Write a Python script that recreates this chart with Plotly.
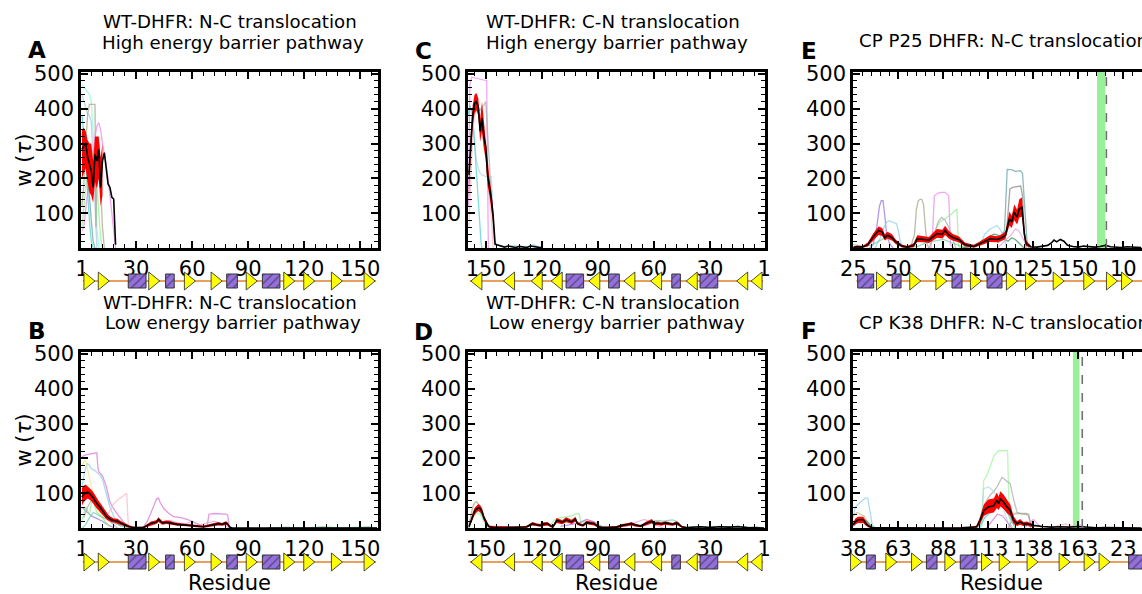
import plotly.graph_objects as go

W, H = 1142, 594
FONT = "DejaVu Sans"

# ---------------- secondary structure (axis units) ----------------
WT_strands = [5, 12.7, 39.7, 58.8, 73.1, 91.9, 112, 122.7, 137.5, 155]
WT_helix_start = [25.8, 45.8, 78.5, 97.6]
WT_helix_end = [35.3, 50.4, 84.2, 107]
WT_backbone = [1.5, 158.5]

P25_strands = [15.9, 34.4, 48.9, 68.1, 88.1, 98.7, 114.1, 131.1, 143.7, 152.1]
P25_helix_start = [2.4, 21.5, 54.8, 74.3]
P25_helix_end = [11.3, 26.5, 60.4, 82.6]
P25_backbone = [1.7, 175]

K38_strands = [1.5, 21.1, 35.4, 53.9, 74.3, 84.1, 99.6, 117.4, 131.3, 139.6]
K38_helix_start = [7.2, 40.6, 59.4, 153]
K38_helix_end = [12.2, 46.5, 68.7, 163]
K38_backbone = [-1.3, 175]

# ---------------- tick labels ----------------
WT_tickvals = [1, 30, 60, 90, 120, 150]
WT_ticktext = ["1", "30", "60", "90", "120", "150"]
CP_tickvals = [0, 25, 50, 75, 100, 125, 150]
P25_ticktext = ["25", "50", "75", "100", "125", "150", "10"]
K38_ticktext = ["38", "63", "88", "113", "138", "163", "23"]
Y_tickvals = [100, 200, 300, 400, 500]

# linker markers in the circular permutants
P25_linker = [135.4, 140.0]
P25_dash = 140.6
K38_linker = [122.0, 125.7]
K38_dash = 127.2

# ---------------- Panel A: WT N-C, high barrier ----------------
A_res = [1, 2, 3, 4, 5, 6, 7, 8, 9, 10, 11, 12, 13, 14, 15, 16, 17, 18, 19]
A_mean = [283, 295, 302, 262, 240, 222, 174, 269, 250, 283, 174, 250, 274, 222, 184, 174, 146, 141, 10]
A_band_res = [1, 2, 3, 4, 5, 6, 7, 8, 9, 10, 11, 12]
A_lo = [200, 215, 230, 190, 160, 150, 130, 190, 170, 200, 120, 150]
A_hi = [340, 345, 335, 310, 300, 300, 250, 320, 320, 320, 260, 300]
A_traj_x = [
    [1, 2, 3, 4, 5, 6, 7, 8, 9, 10],
    [1, 2, 3, 4, 5, 6, 7, 8, 9],
    [1, 2, 3, 4, 5, 6, 7, 8, 8.5, 9, 10, 11, 12, 13],
    [1, 2, 3, 4, 5, 6, 7, 8, 9, 10, 11, 12, 13, 14, 15, 16, 17, 18, 19],
    [1, 2, 3, 4, 5, 6, 7],
    [1, 2, 3, 4, 5, 6, 7, 8, 9, 10, 11, 12],
    [1, 2, 3, 4, 5, 6, 7, 8],
]
A_traj_y = [
    [470, 462, 455, 445, 440, 420, 330, 200, 60, 0],
    [440, 420, 400, 385, 380, 360, 250, 100, 0],
    [120, 180, 300, 380, 412, 412, 412, 412, 60, 220, 300, 200, 60, 0],
    [50, 60, 110, 170, 210, 240, 270, 320, 350, 360, 340, 300, 275, 240, 200, 150, 100, 40, 0],
    [380, 330, 250, 160, 80, 20, 0],
    [60, 120, 180, 230, 260, 280, 260, 240, 180, 100, 30, 0],
    [330, 300, 250, 200, 150, 80, 20, 0],
]
A_colors = ["aquamarine", "lightsteelblue", "#a0a080", "violet", "mediumturquoise", "lightgreen", "cadetblue"]

# ---------------- Panel B: WT N-C, low barrier ----------------
B_res = [1, 2, 3, 4, 5, 6, 7, 8, 9, 10, 11, 12, 13, 14, 15, 16, 17, 18, 19, 20,
         22, 24, 26, 28, 30, 32, 34, 36, 38, 40, 41, 42, 43, 44,
         46, 48, 50, 52, 54, 56, 58, 60, 62, 64, 66, 68, 70, 72, 74, 76, 78,
         79, 80, 81, 82, 100, 130, 159]
B_mean = [89, 97, 101, 103, 100, 94, 88, 78, 70, 64, 58, 50, 43, 35, 30, 26, 23, 22, 21, 20,
          14, 9, 5, 2, 2, 1, 2, 8, 14, 16, 18, 25, 20, 15,
          17, 16, 13, 11, 10, 9, 8, 8, 6, 4, 4, 6, 8, 12, 13, 11, 15,
          12, 4, 1, 0, 0, 0, 0]
B_band_res = B_res[:55]
B_lo = [65, 75, 80, 85, 82, 78, 72, 63, 56, 51, 46, 39, 33, 26, 22, 19, 17, 16, 15, 14,
        9, 5, 2, 0, 0, 0, 0, 4, 9, 11, 13, 18, 14, 10,
        12, 11, 9, 7, 6, 5, 5, 5, 3, 1, 1, 3, 4, 7, 8, 7, 10,
        8, 1, 0, 0]
B_hi = [115, 122, 125, 120, 117, 110, 104, 94, 85, 78, 71, 62, 54, 45, 39, 34, 30, 28, 28, 27,
        20, 14, 9, 5, 4, 3, 5, 12, 19, 21, 24, 31, 26, 20,
        22, 21, 17, 15, 14, 13, 12, 11, 9, 7, 7, 10, 13, 17, 18, 15, 20,
        17, 7, 2, 0]
B_traj_x = [
    [1, 2, 3, 5, 7, 9, 9.5, 10, 12, 14, 16, 18, 20, 22, 24, 26, 30, 34, 36, 38, 40, 41, 42, 43, 45, 47, 50,
     54, 58, 62, 66, 68, 69, 72, 75, 78, 79, 80],
    [1, 2, 3, 4, 5, 6, 7, 8, 9, 10, 11, 12, 13, 14, 15, 16, 18, 20, 22],
    [1, 2, 3, 4, 5, 6, 7, 8, 10, 12, 14, 16],
    [14, 16, 18, 20, 22, 23, 24, 25, 25.5, 26],
    [1, 2, 3, 4, 5, 6, 8, 10, 12, 14, 16, 18],
    [1, 2, 3, 4, 5, 6, 7, 8, 9, 10, 12, 14, 16],
    [1, 3, 5, 7, 9, 11, 13, 15, 17, 20, 24, 28],
    [2, 4, 6, 8, 10, 12, 14, 16, 18, 20],
    [36, 40, 44, 48, 52, 56, 60, 64, 68, 72, 76, 80],
    [100, 110, 120, 130, 140, 150, 155, 159],
]
B_traj_y = [
    [205, 208, 210, 212, 214, 216, 175, 162, 150, 120, 75, 55, 40, 25, 12, 5, 2, 4, 20, 45, 70, 84, 86, 72, 55, 45, 33,
     30, 24, 14, 5, 5, 40, 42, 42, 40, 38, 0],
    [120, 150, 175, 185, 180, 170, 168, 165, 160, 155, 150, 140, 120, 100, 80, 60, 35, 15, 5],
    [180, 190, 195, 170, 140, 110, 90, 70, 50, 30, 15, 5],
    [30, 50, 70, 80, 88, 92, 96, 100, 40, 0],
    [60, 55, 50, 45, 40, 35, 30, 25, 20, 12, 6, 2],
    [20, 40, 60, 50, 40, 70, 80, 60, 45, 40, 30, 15, 5],
    [0, 10, 30, 45, 40, 35, 30, 25, 18, 10, 3, 0],
    [30, 60, 80, 70, 55, 40, 30, 20, 10, 0],
    [5, 20, 18, 22, 15, 12, 20, 8, 15, 20, 12, 0],
    [0, 2, 1, 3, 1, 2, 3, 0],
]
B_colors = ["orchid", "skyblue", "khaki", "lightpink", "mediumpurple", "lightgreen",
            "mediumaquamarine", "darkgray", "plum", "seagreen"]

# ---------------- Panel C: WT C-N, high barrier ----------------
C_res = [159, 158, 157, 156, 155, 154, 153, 152, 151, 150, 149, 148, 147, 146, 145, 144, 143, 142,
         140, 138, 136, 134, 132, 130, 128, 126, 124, 122, 120]
C_mean = [210, 300, 380, 415, 420, 405, 335, 373, 320, 290, 210, 175, 140, 90, 12, 10, 8, 5,
          3, 6, 4, 2, 5, 3, 2, 6, 4, 3, 1]
C_band_res = [159, 158, 157, 156, 155, 154, 153, 152, 151, 150, 149, 148, 147, 146, 145]
C_lo = [180, 270, 350, 385, 395, 380, 305, 335, 285, 255, 180, 150, 115, 70, 5]
C_hi = [240, 330, 410, 440, 445, 430, 370, 420, 360, 320, 240, 200, 165, 110, 20]
C_traj_x = [
    [159.3, 158.5, 157.5, 155, 152, 149.5, 149, 148.6],
    [159, 157, 155, 153, 152, 151, 150, 149, 148, 147, 146, 145],
    [159, 158, 157, 156, 155, 154, 153, 152, 150, 148, 147, 146.5, 146, 145],
    [159.5, 158.5, 157.5, 156.5, 155.5, 154.5, 153.5, 152.5, 152],
    [159, 158, 157, 156, 155, 154, 153, 152, 151, 150, 149, 148, 147, 146],
    [145, 142, 139, 136, 133, 130, 127, 124, 121],
]
C_traj_y = [
    [120, 470, 490, 487, 482, 480, 200, 0],
    [150, 380, 410, 395, 405, 410, 420, 320, 230, 150, 60, 10],
    [200, 330, 370, 300, 250, 230, 215, 210, 205, 205, 205, 150, 40, 5],
    [380, 410, 390, 340, 260, 170, 80, 15, 0],
    [60, 200, 330, 380, 400, 390, 360, 340, 300, 260, 200, 150, 80, 0],
    [10, 6, 3, 8, 4, 2, 6, 10, 0],
]
C_colors = ["violet", "darkgray", "lightblue", "mediumturquoise", "lightpink", "skyblue"]

# ---------------- Panel D: WT C-N, low barrier ----------------
D_res = [159, 158, 157, 156, 155, 154, 153, 152, 151, 150, 149, 148,
         146, 142, 138, 134, 130, 128, 126, 125, 123, 121,
         119, 117, 115, 114, 112, 110, 109, 107, 105, 104,
         102, 101, 99, 98, 96, 94, 92, 90, 88, 84,
         80, 77, 74, 72, 70, 67, 64, 62, 61, 60,
         58, 56, 54, 52, 50, 48, 47, 46, 45, 43,
         40, 35, 30, 25, 20, 15, 10, 5, 1]
D_mean = [4, 20, 35, 48, 55, 59, 56, 48, 30, 18, 10, 4,
          2, 1, 2, 1, 2, 4, 10, 13, 10, 8,
          12, 13, 6, 4, 22, 19, 17, 24, 20, 18,
          26, 14, 9, 8, 16, 14, 13, 5, 2, 2,
          3, 8, 10, 13, 9, 6, 14, 18, 20, 12,
          14, 12, 15, 13, 11, 15, 13, 8, 4, 2,
          3, 4, 2, 4, 3, 4, 2, 1, 0]
D_band_res = [159, 158, 157, 156, 155, 154, 153, 152, 151, 150, 149, 148,
              130, 128, 126, 125, 123, 121, 119, 117, 115, 114,
              112, 110, 109, 107, 105, 104, 102, 101, 99, 98,
              96, 94, 92, 90, 88,
              80, 77, 74, 72, 70, 67, 64, 62, 61, 60,
              58, 56, 54, 52, 50, 48, 47, 46, 45, 43]
D_lo = [0, 12, 26, 38, 45, 49, 46, 38, 22, 12, 5, 1,
        0, 1, 6, 8, 6, 4, 7, 8, 2, 1,
        15, 13, 11, 17, 14, 12, 19, 9, 5, 4,
        11, 9, 8, 2, 0,
        0, 4, 6, 8, 5, 3, 9, 12, 14, 7,
        9, 7, 10, 8, 7, 10, 8, 4, 1, 0]
D_hi = [8, 28, 44, 58, 65, 69, 66, 58, 38, 24, 15, 7,
        4, 7, 14, 18, 14, 12, 17, 18, 10, 7,
        29, 25, 23, 31, 26, 24, 33, 19, 13, 12,
        21, 19, 18, 8, 4,
        6, 12, 14, 18, 13, 9, 19, 24, 26, 17,
        19, 17, 20, 18, 15, 20, 18, 12, 7, 4]
D_traj_x = [
    [159, 158, 157, 156, 155, 154, 153, 152, 151, 150, 149, 148],
    [159, 157, 155, 153, 151, 149, 147, 140, 130, 125, 120, 115, 113, 110, 107, 104, 102, 100, 99, 97, 95, 90, 85, 80],
    [110, 105, 100, 98, 96, 94, 92, 90, 88, 85],
    [159, 157, 155, 153, 151, 149, 147],
    [70, 66, 62, 58, 55, 52, 50, 48, 46, 44, 40],
    [75, 73, 71, 69, 67, 65, 63, 61, 59, 57, 55],
    [40, 35, 30, 25, 20, 15, 10, 5, 1],
]
D_traj_y = [
    [10, 40, 60, 72, 76, 70, 55, 40, 25, 12, 5, 0],
    [0, 30, 45, 40, 20, 8, 2, 0, 2, 8, 10, 12, 25, 30, 32, 35, 40, 42, 15, 20, 18, 8, 3, 0],
    [5, 10, 15, 20, 25, 22, 18, 10, 5, 0],
    [0, 40, 55, 45, 20, 5, 0],
    [5, 10, 18, 22, 20, 22, 24, 20, 8, 2, 0],
    [5, 8, 12, 18, 22, 25, 20, 15, 10, 5, 0],
    [2, 4, 3, 5, 3, 6, 2, 3, 0],
]
D_colors = ["#a0a080", "lightgreen", "mediumpurple", "aquamarine", "mediumaquamarine", "plum", "seagreen"]

# ---------------- Panel E: CP P25, N-C ----------------
E_idx = [0, 2, 5, 8, 11, 14, 16, 17.5, 19, 21.5, 23.5, 27, 30, 33.5, 35.5, 39, 42, 44, 46.5, 49.5,
         51, 53, 55.5, 58.5, 62, 67, 72.5, 76, 80, 82.5, 84.5, 85.5, 86.7, 88, 89.4, 91, 92.2, 93.7, 95, 96,
         98.5, 102, 106, 108, 110, 111.5, 113, 115, 117, 119, 122, 125, 128, 131, 134, 137, 140, 143, 146, 149,
         152, 155, 158, 160]
E_mean = [2, 4, 3, 10, 32, 51, 46, 30, 37, 30, 18, 6, 3, 8, 27, 25, 23, 32, 42, 40,
          51, 38, 30, 25, 10, 5, 18, 27, 25, 30, 37, 60, 84, 75, 103, 89, 113, 117, 42, 13,
          4, 3, 5, 8, 15, 23, 18, 25, 20, 8, 5, 3, 6, 4, 3, 5, 8, 4, 3, 2,
          4, 3, 2, 2]
E_band_idx = E_idx[:41]
E_lo = [0, 1, 1, 5, 22, 38, 35, 22, 28, 22, 12, 2, 0, 3, 18, 17, 15, 22, 30, 28,
        38, 28, 21, 17, 5, 1, 11, 18, 17, 21, 27, 45, 65, 58, 80, 68, 88, 90, 28, 6, 1]
E_hi = [5, 8, 6, 16, 42, 62, 58, 40, 47, 40, 25, 10, 6, 14, 37, 34, 32, 43, 55, 53,
        64, 50, 40, 34, 16, 9, 26, 37, 34, 40, 48, 75, 105, 93, 125, 110, 140, 145, 58, 22, 8]
E_traj_x = [
    [9, 11, 13, 14.5, 15.5, 16.5, 17.5, 18.5, 20, 22],
    [12, 15, 17, 18.5, 20, 22, 24, 25, 26, 28],
    [30, 32, 34, 35, 36, 37, 38, 39, 40, 41, 42],
    [43, 44, 45, 47, 49, 51, 52, 53, 54, 56],
    [44, 46, 48, 50, 52, 54, 56, 57.5, 58.5, 60],
    [42, 45, 47, 49, 51, 53, 55, 57],
    [80, 83, 85, 86, 87, 89, 91, 93, 94, 95, 96],
    [78, 82, 84, 84.8, 85.5, 88, 90, 92.8, 94, 95.6, 96.5, 97.5],
    [0, 5, 10, 14, 17, 20, 23, 26, 30, 36, 40, 45, 50, 55, 60, 65],
    [60, 65, 70, 75, 78, 80, 82, 84, 86, 88, 90, 92, 95],
    [70, 73, 76, 78, 80, 82, 84, 85],
    [80, 84, 88, 90, 92, 94, 96, 100],
]
E_traj_y = [
    [0, 10, 60, 120, 136, 136, 90, 40, 15, 0],
    [0, 30, 60, 75, 78, 75, 70, 50, 20, 0],
    [0, 5, 40, 110, 135, 140, 140, 125, 60, 10, 0],
    [0, 40, 150, 158, 160, 160, 155, 150, 10, 0],
    [20, 55, 75, 82, 88, 95, 105, 112, 5, 0],
    [0, 40, 75, 88, 80, 60, 30, 0],
    [15, 25, 40, 120, 170, 175, 176, 178, 150, 40, 0],
    [20, 35, 50, 150, 226, 225, 220, 222, 215, 89, 20, 0],
    [10, 5, 8, 20, 28, 25, 22, 10, 3, 5, 15, 20, 25, 15, 5, 0],
    [0, 5, 15, 30, 40, 38, 30, 25, 20, 30, 25, 15, 0],
    [5, 40, 55, 60, 65, 50, 30, 0],
    [0, 20, 40, 55, 50, 30, 10, 0],
]
E_colors = ["mediumpurple", "skyblue", "#a0a080", "violet", "lightgreen", "darkgray", "gray",
            "cadetblue", "mediumaquamarine", "seagreen", "lightskyblue", "plum"]

# ---------------- Panel F: CP K38, N-C ----------------
F_idx = [0, 1, 2.5, 4, 5.5, 7, 8.5, 10, 12, 20, 30, 40, 50, 60, 66, 68.5, 70.5, 72.5, 75, 78,
         79.8, 80.7, 81.7, 83.5, 85.4, 87.2, 89, 91, 92.6, 94.5, 96.5, 98.5, 100, 105, 110, 115, 120, 125, 130, 135,
         140, 145, 150, 155, 160]
F_mean = [10, 18, 24, 23, 24, 13, 6, 2, 1, 1, 0, 0, 0, 1, 2, 4, 23, 51, 61, 64,
          80, 70, 84, 75, 61, 51, 23, 13, 18, 12, 13, 9, 8, 5, 3, 4, 3, 5, 2, 1,
          2, 1, 1, 1, 0]
F_band_idx = F_idx[:33]
F_lo = [4, 10, 15, 14, 15, 7, 2, 0, 0, 0, 0, 0, 0, 0, 0, 1, 12, 35, 42, 45,
        58, 52, 62, 55, 43, 35, 12, 6, 10, 6, 7, 4, 3]
F_hi = [16, 27, 33, 32, 33, 20, 10, 4, 2, 2, 1, 1, 1, 2, 4, 8, 34, 68, 82, 85,
        102, 90, 106, 96, 80, 68, 35, 20, 26, 18, 19, 14, 13]
F_traj_x = [
    [0, 1, 3, 5, 6.5, 8, 8.8, 9.5, 10.5, 12],
    [0, 2, 4, 6, 8, 10],
    [68, 71.5, 72.4, 74, 76, 78, 80.7, 85.7, 86.3, 87.2, 88.5],
    [68, 70, 72, 74, 76, 78, 80, 82.6, 84, 86, 87.2, 89, 91, 94, 97, 100],
    [70, 71.5, 72.4, 74, 75.2, 77, 79, 81, 83, 85, 87],
    [86, 88, 89, 90, 92, 94, 96, 97.5, 98.5],
    [70, 73, 76, 79, 82, 85, 88, 90],
    [95, 97, 99, 100, 101, 103, 105],
    [74, 77, 80, 83, 86, 88],
    [0, 2, 4, 6, 8, 10, 12],
    [110, 114, 118, 122, 126, 130],
]
F_traj_y = [
    [30, 60, 70, 78, 86, 86, 60, 30, 10, 0],
    [35, 45, 40, 35, 15, 0],
    [0, 8, 136, 150, 175, 207, 222, 222, 98, 13, 0],
    [0, 10, 55, 80, 95, 105, 120, 146, 140, 132, 127, 84, 45, 40, 38, 0],
    [0, 50, 113, 116, 118, 110, 99, 80, 60, 30, 0],
    [0, 20, 40, 42, 42, 43, 42, 40, 0],
    [0, 30, 45, 60, 70, 50, 20, 0],
    [0, 10, 22, 25, 20, 8, 0],
    [0, 20, 40, 35, 15, 0],
    [10, 20, 28, 25, 18, 5, 0],
    [0, 8, 12, 6, 10, 0],
]
F_colors = ["skyblue", "darkkhaki", "palegreen", "darkgray", "lightblue", "#a0a080",
            "mediumturquoise", "violet", "orchid", "seagreen", "lightpink"]

# ---------------- layout geometry (pixels) ----------------
COLS = [(81, 378), (468, 765), (853, 1142)]
ROWS = [(72, 248), (352, 528)]
SS_ROWS = [(270, 292), (551, 573)]
Y_RANGE = [0.5, 505]
WT_RANGE = [0.5, 159.5]
WT_RANGE_REV = [159.5, 0.5]
CP_RANGE = [-0.2, 160.4]


def fx(px):
    return px / W


def fy(py):
    return 1 - py / H


def ax_names(n):
    return ("x" if n == 1 else f"x{n}", "y" if n == 1 else f"y{n}",
            "xaxis" if n == 1 else f"xaxis{n}", "yaxis" if n == 1 else f"yaxis{n}")


fig = go.Figure()
layout = {}
shapes = []
annotations = []

tickfont = dict(family=FONT, size=21, color="black")
axis_common = dict(ticks="inside", ticklen=7, tickwidth=1.5, tickcolor="black",
                   showline=True, linecolor="black", linewidth=2.5, automargin=False,
                   showgrid=False, zeroline=False, tickfont=tickfont)


def add_panel(i, col, row, xr, tickvals, ticktext, mdtick, mtick0,
              tx, ty, tcolors, mx, my, bx, blo, bhi,
              strands, hs, he, backbone, edge_col):
    xm, ym, xmk, ymk = ax_names(2 * i + 1)
    xs, ys, xsk, ysk = ax_names(2 * i + 2)
    c0, c1 = COLS[col]
    r0, r1 = ROWS[row]
    s0, s1 = SS_ROWS[row]
    layout[xmk] = dict(domain=[fx(c0), fx(c1)], range=xr, anchor=ym,
                       tickmode="array", tickvals=tickvals, ticktext=ticktext,
                       mirror="allticks",
                       minor=dict(ticks="inside", ticklen=4, tickwidth=1.2, tickcolor="black",
                                  tickmode="linear", tick0=mtick0, dtick=mdtick, showgrid=False),
                       **axis_common)
    layout[ymk] = dict(domain=[fy(r1), fy(r0)], range=Y_RANGE, anchor=xm,
                       tickmode="array", tickvals=Y_tickvals,
                       mirror=(False if edge_col else "allticks"),
                       minor=dict(ticks="inside", ticklen=4, tickwidth=1.2, tickcolor="black",
                                  tickmode="linear", tick0=0, dtick=20, showgrid=False),
                       **axis_common)
    # secondary-structure strip axes (slightly wider than the plot)
    ppu = (c1 - c0) / abs(xr[1] - xr[0])
    sgn = 1 if xr[1] > xr[0] else -1
    ext_l = 8
    ext_r = 0 if edge_col else 8
    layout[xsk] = dict(domain=[fx(c0 - ext_l), fx(c1 + ext_r)],
                       range=[xr[0] - sgn * ext_l / ppu, xr[1] + sgn * ext_r / ppu],
                       anchor=ys, visible=False, showgrid=False, zeroline=False)
    layout[ysk] = dict(domain=[fy(s1), fy(s0)], range=[-1.1, 1.1], anchor=xs,
                       visible=False, showgrid=False, zeroline=False)

    # individual trajectories
    for x, y, c in zip(tx, ty, tcolors):
        fig.add_trace(go.Scatter(x=x, y=y, mode="lines", line=dict(color=c, width=1.3),
                                 opacity=0.7, xaxis=xm, yaxis=ym, hoverinfo="skip"))
    # error band
    fig.add_trace(go.Scatter(x=list(bx) + list(bx)[::-1], y=list(bhi) + list(blo)[::-1],
                             mode="lines", fill="toself", fillcolor="#ff0000",
                             line=dict(width=0, color="#ff0000"), xaxis=xm, yaxis=ym, hoverinfo="skip"))
    # mean
    fig.add_trace(go.Scatter(x=mx, y=my, mode="lines", line=dict(color="black", width=1.6),
                             xaxis=xm, yaxis=ym, hoverinfo="skip"))

    # secondary structure cartoon
    fig.add_trace(go.Scatter(x=backbone, y=[0, 0], mode="lines",
                             line=dict(color="#e8a060", width=2), xaxis=xs, yaxis=ys, hoverinfo="skip"))
    hx, hy = [], []
    hh = 0.7
    for a, b in zip(hs, he):
        hx += [a, b, b, a, a, None]
        hy += [-hh, -hh, hh, hh, -hh, None]
    fig.add_trace(go.Scatter(x=hx, y=hy, mode="lines", fill="toself", fillcolor="#9370db",
                             fillpattern=dict(shape="/", fgcolor="#1a1a1a", bgcolor="#9370db",
                                              size=6, solidity=0.22),
                             line=dict(color="#333333", width=1), xaxis=xs, yaxis=ys, hoverinfo="skip"))
    trx, tr_y = [], []
    hw = 5.5 / ppu
    th = 0.9
    for c in strands:
        trx += [c - hw, c + hw, c - hw, c - hw, None]
        tr_y += [-th, 0, th, -th, None]
    fig.add_trace(go.Scatter(x=trx, y=tr_y, mode="lines", fill="toself", fillcolor="#ffff00",
                             line=dict(color="#222222", width=0.8), xaxis=xs, yaxis=ys, hoverinfo="skip"))
    return xm, ym


add_panel(0, 0, 0, WT_RANGE, WT_tickvals, WT_ticktext, 6, 0,
          A_traj_x, A_traj_y, A_colors, A_res, A_mean, A_band_res, A_lo, A_hi,
          WT_strands, WT_helix_start, WT_helix_end, WT_backbone, False)
add_panel(1, 0, 1, WT_RANGE, WT_tickvals, WT_ticktext, 6, 0,
          B_traj_x, B_traj_y, B_colors, B_res, B_mean, B_band_res, B_lo, B_hi,
          WT_strands, WT_helix_start, WT_helix_end, WT_backbone, False)
add_panel(2, 1, 0, WT_RANGE_REV, WT_tickvals, WT_ticktext, 6, 0,
          C_traj_x, C_traj_y, C_colors, C_res, C_mean, C_band_res, C_lo, C_hi,
          WT_strands, WT_helix_start, WT_helix_end, WT_backbone, False)
add_panel(3, 1, 1, WT_RANGE_REV, WT_tickvals, WT_ticktext, 6, 0,
          D_traj_x, D_traj_y, D_colors, D_res, D_mean, D_band_res, D_lo, D_hi,
          WT_strands, WT_helix_start, WT_helix_end, WT_backbone, False)
xE, yE = add_panel(4, 2, 0, CP_RANGE, CP_tickvals, P25_ticktext, 5, 0,
                   E_traj_x, E_traj_y, E_colors, E_idx, E_mean, E_band_idx, E_lo, E_hi,
                   P25_strands, P25_helix_start, P25_helix_end, P25_backbone, True)
xF, yF = add_panel(5, 2, 1, CP_RANGE, CP_tickvals, K38_ticktext, 5, 0,
                   F_traj_x, F_traj_y, F_colors, F_idx, F_mean, F_band_idx, F_lo, F_hi,
                   K38_strands, K38_helix_start, K38_helix_end, K38_backbone, True)

# linker band + dashed line in the CP panels
for xa, ya, band, dash in [(xE, yE, P25_linker, P25_dash), (xF, yF, K38_linker, K38_dash)]:
    shapes.append(dict(type="rect", xref=xa, yref=f"{ya} domain", x0=band[0], x1=band[1], y0=0, y1=1,
                       fillcolor="#98f098", line=dict(width=0), layer="below"))
    shapes.append(dict(type="line", xref=xa, yref=f"{ya} domain", x0=dash, x1=dash, y0=0, y1=1,
                       line=dict(color="#707070", width=1.6, dash="dash"), layer="above"))

# ---------------- text ----------------
title_font = dict(family=FONT, size=18.2, color="black")
for x, y, t, anc in [
    (229.5, 21.5, "WT-DHFR: N-C translocation", "center"),
    (232.5, 42, "High energy barrier pathway", "center"),
    (613, 21.5, "WT-DHFR: C-N translocation", "center"),
    (616.5, 42, "High energy barrier pathway", "center"),
    (857, 41, "CP P25 DHFR: N-C translocation", "left"),
    (229.5, 302, "WT-DHFR: N-C translocation", "center"),
    (232.5, 322.5, "Low energy barrier pathway", "center"),
    (613, 302, "WT-DHFR: C-N translocation", "center"),
    (616.5, 322.5, "Low energy barrier pathway", "center"),
    (857, 322, "CP K38 DHFR: N-C translocation", "left"),
]:
    annotations.append(dict(x=fx(x), y=fy(y), xref="paper", yref="paper", text=t, showarrow=False,
                            xanchor=anc, yanchor="middle", font=title_font))

letter_font = dict(family=FONT, size=23, color="black")
for x, y, t in [(36.5, 50, "A"), (36.5, 331, "B"), (423, 51, "C"), (423, 332, "D"),
                (808.5, 51, "E"), (808.5, 331, "F")]:
    annotations.append(dict(x=fx(x), y=fy(y), xref="paper", yref="paper", text=f"<b>{t}</b>",
                            showarrow=False, xanchor="center", yanchor="middle", font=letter_font))

label_font = dict(family=FONT, size=21, color="black")
for y in [160, 440]:
    annotations.append(dict(x=fx(23.5), y=fy(y), xref="paper", yref="paper", text="w (<i>τ</i>)",
                            showarrow=False, textangle=-90, xanchor="center", yanchor="middle",
                            font=label_font))
for x in [229.5, 616.5, 1001.5]:
    annotations.append(dict(x=fx(x), y=fy(583), xref="paper", yref="paper", text="Residue",
                            showarrow=False, xanchor="center", yanchor="middle", font=label_font))

fig.update_layout(width=W, height=H,
                  margin=dict(l=0, r=0, t=0, b=0, pad=0, autoexpand=False),
                  plot_bgcolor="white", paper_bgcolor="white", showlegend=False,
                  shapes=shapes, annotations=annotations, **layout)

fig.write_html("out.html",
               post_script="document.body.style.margin='0px';"
                           "document.body.style.padding='0px';"
                           "document.documentElement.style.overflow='hidden';")
